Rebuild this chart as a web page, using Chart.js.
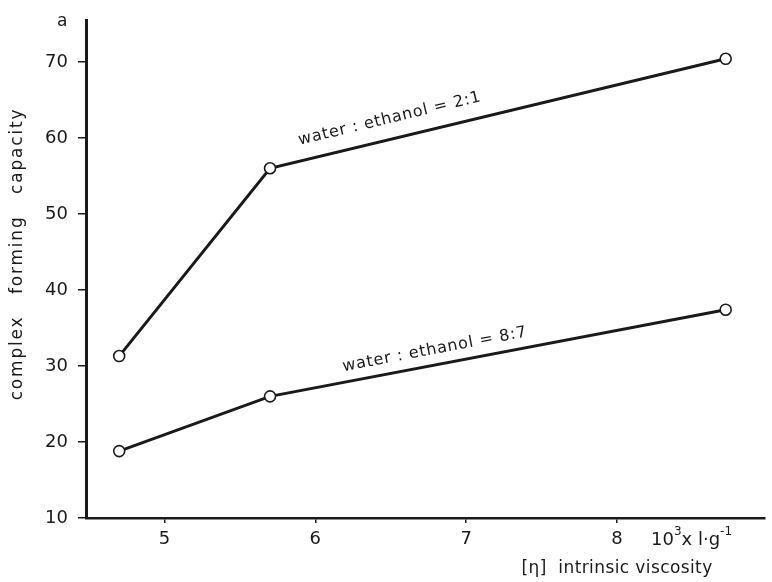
<!DOCTYPE html>
<html>
<head>
<meta charset="utf-8">
<script src="https://cdn.jsdelivr.net/npm/chart.js@4"></script>
<style>
  html, body { margin: 0; padding: 0; background: #fff; }
  #wrap { width: 772px; height: 582px; }
</style>
</head>
<body>
<div id="wrap"><canvas id="chart" width="772" height="582"></canvas></div>
<script>
// intrinsic viscosity, 10^3 x l/g
const viscosity = [4.7, 5.7, 8.72];
// complex forming capacity for the two solvent ratios
const ratio21 = [31.3, 56.0, 70.4];
const ratio87 = [18.8, 26.0, 37.4];
const xTicks = [5, 6, 7, 8];
const yTicks = [10, 20, 30, 40, 50, 60, 70];
const seriesNames = ['water : ethanol = 2:1', 'water : ethanol = 8:7'];

const ink = '#1a1a1a';
const font = 'DejaVu Sans';

function pts(ys) {
  return viscosity.map((x, i) => ({ x: x, y: ys[i] }));
}

// draws labels that sit along the lines and the loose texts
const extraText = {
  id: 'extraText',
  afterDraw(chart) {
    const ctx = chart.ctx;
    const xs = chart.scales.x, ys = chart.scales.y;
    const area = chart.chartArea;
    ctx.save();
    ctx.fillStyle = ink;

    // y title
    ctx.save();
    ctx.translate(18, 254);
    ctx.rotate(-Math.PI / 2);
    ctx.font = '17px "' + font + '"';
    ctx.letterSpacing = '1.8px';
    ctx.textAlign = 'center';
    ctx.textBaseline = 'middle';
    ctx.fillText('complex   forming   capacity', 0, 0);
    ctx.restore();

    // panel letter
    ctx.font = '17px "' + font + '"';
    ctx.textAlign = 'left';
    ctx.textBaseline = 'middle';
    ctx.fillText('a', 57, 22);

    // unit next to the last tick, with raised exponents
    const uy = area.bottom + 22;
    let ux = xs.getPixelForValue(8) + 34;
    const part = (txt, size, dy) => {
      ctx.font = size + 'px "' + font + '"';
      ctx.fillText(txt, ux, uy + dy);
      ux += ctx.measureText(txt).width;
    };
    part('10', 18, 0);
    part('3', 12, -8);
    part('x l·g', 18, 0);
    part('-1', 12, -8);

    // x title
    ctx.font = '17px "' + font + '"';
    ctx.textAlign = 'center';
    ctx.letterSpacing = '0.4px';
    ctx.fillText('[η]  intrinsic viscosity', xs.getPixelForValue(8), area.bottom + 51);
    ctx.letterSpacing = '0px';

    // labels along the second segment of each line
    [[ratio21, 5.92, 0, -16], [ratio87, 6.2, 1, -11]].forEach(([vals, at, k, off]) => {
      const x1 = xs.getPixelForValue(viscosity[1]), y1 = ys.getPixelForValue(vals[1]);
      const x2 = xs.getPixelForValue(viscosity[2]), y2 = ys.getPixelForValue(vals[2]);
      const ang = Math.atan2(y2 - y1, x2 - x1);
      const px = xs.getPixelForValue(at);
      const py = y1 + (y2 - y1) * (px - x1) / (x2 - x1);
      ctx.save();
      ctx.translate(px, py);
      ctx.rotate(ang);
      ctx.font = '16px "' + font + '"';
      ctx.letterSpacing = '0.8px';
      ctx.textAlign = 'left';
      ctx.textBaseline = 'alphabetic';
      ctx.fillText(seriesNames[k], 0, off);
      ctx.restore();
    });
    ctx.restore();
  }
};

new Chart(document.getElementById('chart'), {
  type: 'line',
  data: {
    datasets: [
      { label: seriesNames[0], data: pts(ratio21) },
      { label: seriesNames[1], data: pts(ratio87) }
    ].map(d => Object.assign(d, {
      borderColor: ink,
      borderWidth: 3,
      pointRadius: 5.5,
      pointBorderWidth: 1.6,
      pointBackgroundColor: '#fff',
      pointBorderColor: ink,
      tension: 0,
      fill: false
    }))
  },
  options: {
    responsive: false,
    animation: false,
    layout: { padding: { top: 10, right: 2, left: 0, bottom: 0 } },
    plugins: { legend: { display: false }, tooltip: { enabled: false } },
    scales: {
      x: {
        type: 'linear',
        min: 4.48,
        max: 8.98,
        afterBuildTicks: s => { s.ticks = xTicks.map(v => ({ value: v })); },
        afterFit: s => { s.height = 64; },
        grid: { drawOnChartArea: false, tickLength: 5, color: ink, lineWidth: 1.5 },
        border: { color: ink, width: 2.5 },
        ticks: { padding: 6, color: ink, font: { family: font, size: 18 } }
      },
      y: {
        min: 10,
        max: 75.4,
        afterBuildTicks: s => { s.ticks = yTicks.map(v => ({ value: v })); },
        afterFit: s => { s.width = 86; },
        grid: { drawOnChartArea: false, tickLength: 8, color: ink, lineWidth: 1.5 },
        border: { color: ink, width: 3 },
        ticks: { padding: 10, color: ink, font: { family: font, size: 18 } }
      }
    }
  },
  plugins: [extraText]
});
</script>
</body>
</html>
